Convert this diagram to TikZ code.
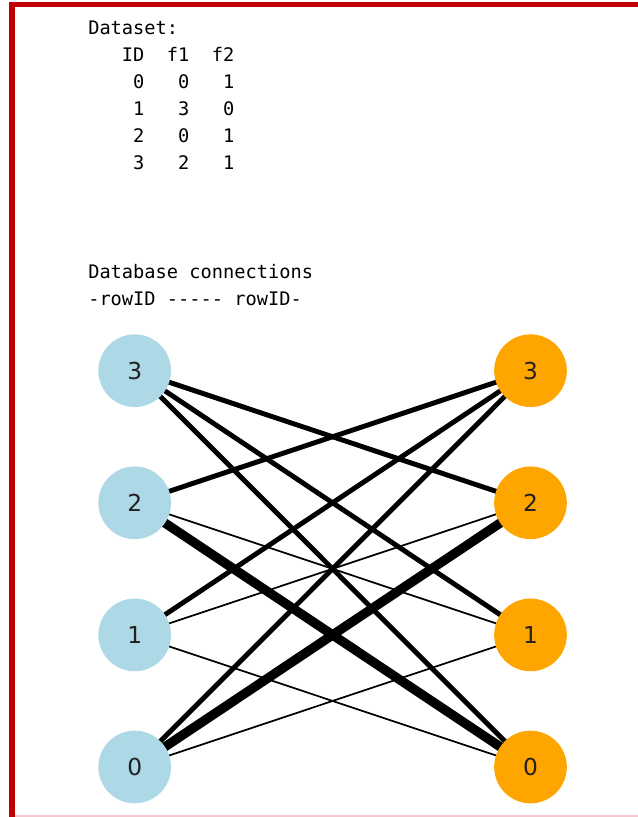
\documentclass[tikz,border=0pt]{standalone}
\usepackage{fontspec}
\setmainfont{DejaVu Sans}
\setmonofont{DejaVu Sans Mono}
\usetikzlibrary{backgrounds}

\definecolor{framered}{RGB}{192,0,0}
\definecolor{framepink}{RGB}{245,200,205}
\definecolor{rowblue}{HTML}{ADD8E6}
\definecolor{roworange}{HTML}{FFA500}
\definecolor{labelgray}{HTML}{222222}

\tikzset{
  mono/.style={anchor=base west, inner sep=0pt, font=\fontsize{14}{17}\selectfont\ttfamily},
  rownode/.style={circle, minimum size=54.5pt, inner sep=0pt, text=labelgray,
    font=\fontsize{17.5}{21}\selectfont},
  leftrow/.style={rownode, fill=rowblue},
  rightrow/.style={rownode, fill=roworange},
  thinlink/.style={line width=1.3pt},
  thicklink/.style={line width=3.7pt},
  heavylink/.style={line width=7pt}
}

\begin{document}
\begin{tikzpicture}[x=0.75pt, y=-0.75pt]
\useasboundingbox (0,0) rectangle (638,817);

% frame
\fill[framered] (9,1.7) rectangle (638,6.7);
\fill[framered] (9,1.7) rectangle (14.5,817);
\fill[framepink] (14.5,815) rectangle (638,816.5);

% dataset table
\foreach \line [count=\i from 0] in {Dataset:, ~~~ID~~f1~~f2, ~~~~0~~~0~~~1,
    ~~~~1~~~3~~~0, ~~~~2~~~0~~~1, ~~~~3~~~2~~~1}
  \node[mono] (data\i) at (88, 35+26.8*\i) {\line};

\node[mono] (title) at (88, 278.3) {Database connections};
\node[mono] (header) at (88, 305) {-rowID~-----~rowID-};

% row nodes
\foreach \k/\y in {3/370.7, 2/502.8, 1/634.9, 0/767} {
  \node[leftrow] (l\k) at (134.7,\y) {\k};
  \node[rightrow] (r\k) at (530.5,\y) {\k};
}

% connections
\begin{scope}[on background layer]
  \foreach \a/\b/\w in {3/2/thicklink, 3/1/thicklink, 3/0/thicklink,
      2/3/thicklink, 2/1/thinlink, 2/0/heavylink,
      1/3/thicklink, 1/2/thinlink, 1/0/thinlink,
      0/3/thicklink, 0/2/heavylink, 0/1/thinlink}
    \draw[\w] (l\a.center) -- (r\b.center);
\end{scope}
\end{tikzpicture}
\end{document}
